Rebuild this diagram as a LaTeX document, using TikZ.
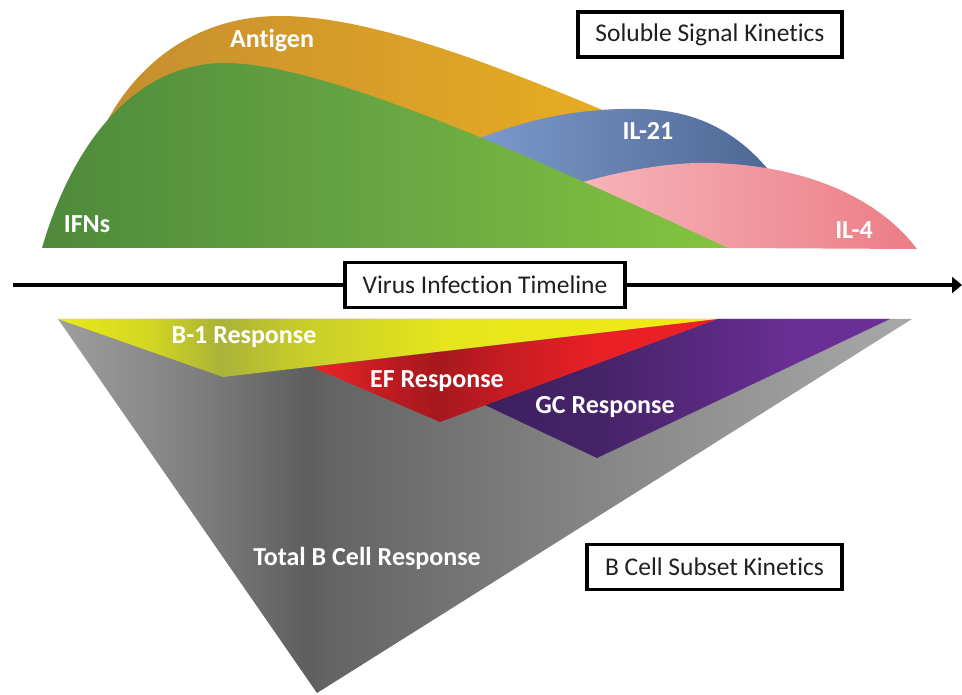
\documentclass[tikz,border=0pt]{standalone}
\usepackage{fontspec}
\setmainfont{Carlito}[Ligatures=NoCommon]
\usetikzlibrary{arrows.meta}

% colours of the soluble signals
\definecolor{ifnA}{HTML}{4E8A3B}
\definecolor{ifnB}{HTML}{67A642}
\definecolor{ifnC}{HTML}{84C43F}
\definecolor{agA}{HTML}{C48E30}
\definecolor{agB}{HTML}{D89E28}
\definecolor{agC}{HTML}{E9B020}
\definecolor{ilA}{HTML}{7C98CB}
\definecolor{ilB}{HTML}{4C6692}
\definecolor{ivA}{HTML}{F6B4B9}
\definecolor{ivB}{HTML}{EC7C85}
% colours of the B cell subsets
\definecolor{gyA}{HTML}{9E9E9E}
\definecolor{gyB}{HTML}{7E7E7E}
\definecolor{gyC}{HTML}{5E5E5E}
\definecolor{gyD}{HTML}{646464}
\definecolor{gyE}{HTML}{868686}
\definecolor{gyF}{HTML}{A8A8A8}
\definecolor{ylA}{HTML}{EAEA18}
\definecolor{ylB}{HTML}{D2D622}
\definecolor{ylC}{HTML}{A9B338}
\definecolor{ylD}{HTML}{C8CC2A}
\definecolor{ylE}{HTML}{E6E61C}
\definecolor{ylF}{HTML}{F2EA14}
\definecolor{rdA}{HTML}{EE2426}
\definecolor{rdB}{HTML}{B81A20}
\definecolor{rdC}{HTML}{A6181E}
\definecolor{rdD}{HTML}{C41C22}
\definecolor{rdE}{HTML}{EA2026}
\definecolor{puA}{HTML}{3D2060}
\definecolor{puB}{HTML}{462368}
\definecolor{puC}{HTML}{6A2F96}
\definecolor{boxtext}{HTML}{231F20}

% horizontal gradients (the 25bp..75bp band spans the filled shape)
\pgfdeclarehorizontalshading{ifnshade}{100bp}{color(0bp)=(ifnA); color(25bp)=(ifnA); color(50bp)=(ifnB); color(75bp)=(ifnC); color(100bp)=(ifnC)}
\pgfdeclarehorizontalshading{agshade}{100bp}{color(0bp)=(agA); color(25bp)=(agA); color(50bp)=(agB); color(75bp)=(agC); color(100bp)=(agC)}
\pgfdeclarehorizontalshading{ilshade}{100bp}{color(0bp)=(ilA); color(25bp)=(ilA); color(75bp)=(ilB); color(100bp)=(ilB)}
\pgfdeclarehorizontalshading{ivshade}{100bp}{color(0bp)=(ivA); color(25bp)=(ivA); color(75bp)=(ivB); color(100bp)=(ivB)}
\pgfdeclarehorizontalshading{grayshade}{100bp}{color(0bp)=(gyA); color(25bp)=(gyA); color(33.3bp)=(gyB); color(39.7bp)=(gyC); color(40.9bp)=(gyD); color(56.7bp)=(gyE); color(75bp)=(gyF); color(100bp)=(gyF)}
\pgfdeclarehorizontalshading{yelshade}{100bp}{color(0bp)=(ylA); color(25bp)=(ylA); color(32bp)=(ylB); color(37.3bp)=(ylC); color(43.4bp)=(ylD); color(54.7bp)=(ylE); color(75bp)=(ylF); color(100bp)=(ylF)}
\pgfdeclarehorizontalshading{redshade}{100bp}{color(0bp)=(rdA); color(25bp)=(rdA); color(35.9bp)=(rdB); color(40.8bp)=(rdC); color(48.2bp)=(rdD); color(60.6bp)=(rdE); color(75bp)=(rdE); color(100bp)=(rdE)}
\pgfdeclarehorizontalshading{purshade}{100bp}{color(0bp)=(puA); color(25bp)=(puA); color(39.2bp)=(puB); color(63.9bp)=(puC); color(75bp)=(puC); color(100bp)=(puC)}

\begin{document}
\begin{tikzpicture}[x=1pt,y=-1pt,
  lbl/.style={text=white,font=\fontsize{26}{30}\selectfont\bfseries,anchor=base,inner sep=0pt},
  titlebox/.style={draw=black,line width=3.5pt,fill=white,text=boxtext,
    font=\fontsize{25.5}{30}\selectfont,minimum width=#1,minimum height=45pt,inner sep=0pt},
  timeline/.style={line width=4.5pt,draw=black}]
\useasboundingbox (0,0) rectangle (962,695);

% ---- soluble signals ----
\shade[shading=agshade] (100,135) .. controls (135,60) and (200,16) .. (280,16)
  .. controls (380,16) and (520,75) .. (650,130) -- (650,247) -- (160,247) -- cycle;
\shade[shading=ilshade] (480,138) .. controls (540,115) and (590,108) .. (640,109)
  .. controls (700,110) and (745,135) .. (780,185) -- (780,247) -- (480,247) -- cycle;
\shade[shading=ivshade] (583,182) .. controls (640,166) and (685,162) .. (713,163)
  .. controls (810,166) and (880,200) .. (917,249) -- (728,248) -- (600,247) -- cycle;
\shade[shading=ifnshade] (42,248) .. controls (75,135) and (140,63) .. (225,63)
  .. controls (330,63) and (560,170) .. (728,248) -- cycle;

\node[lbl] (antigen) at (272,48) {Antigen};
\node[lbl] (ifns) at (87,233) {IFNs};
\node[lbl] (il21) at (648,140) {IL-21};
\node[lbl] (il4) at (854,239) {IL-4};
\node[titlebox=264pt] (soluble) at (710,34.5) {Soluble Signal Kinetics};

% ---- timeline ----
\coordinate (tstart) at (13,285);
\coordinate (tend) at (962,285);
\node[titlebox=280pt] (virus) at (485,285) {Virus Infection Timeline};
\draw[timeline] (tstart) -- (virus.west);
\draw[timeline,-{Triangle[length=10pt,width=16pt]}] (virus.east) -- (tend);

% ---- B cell subsets ----
\shade[shading=grayshade] (58,319) -- (912,319) -- (317,693) -- cycle;
\shade[shading=purshade] (485,405) -- (717,319) -- (890,319) -- (597,458) -- cycle;
\shade[shading=redshade] (312,367) -- (717,319) -- (440,422) -- cycle;
\shade[shading=yelshade] (58,319) -- (717,319) -- (223,377) -- cycle;

\node[lbl] (b1) at (244,343) {B-1 Response};
\node[lbl] (ef) at (437,387) {EF Response};
\node[lbl] (gc) at (605,413) {GC Response};
\node[lbl] (total) at (367,565) {Total B Cell Response};
\node[titlebox=255pt] (subset) at (714.5,567) {B Cell Subset Kinetics};
\end{tikzpicture}
\end{document}
